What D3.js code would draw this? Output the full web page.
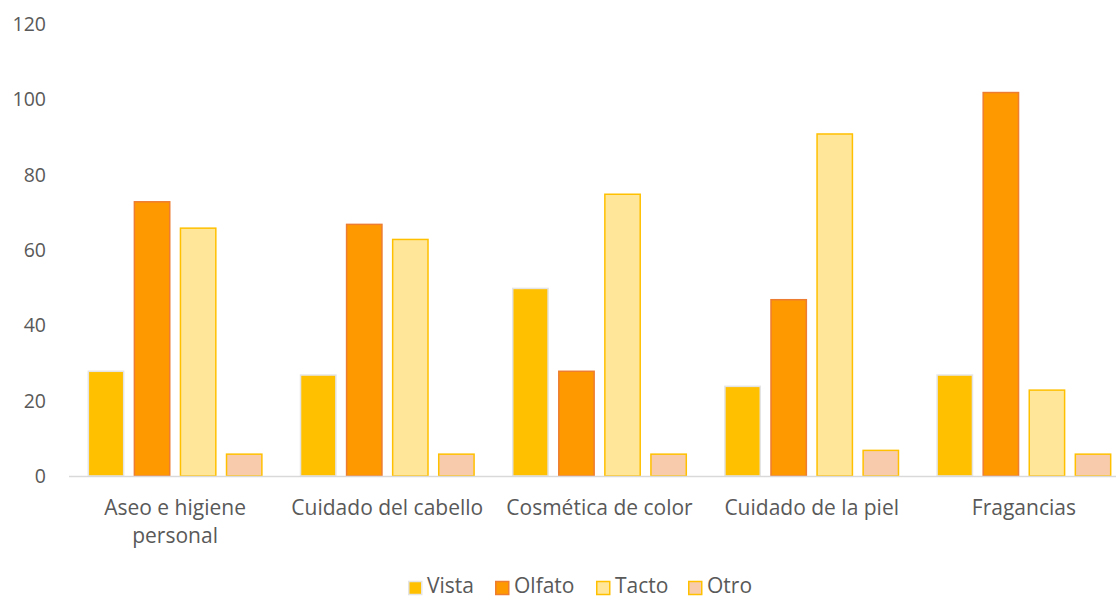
<!DOCTYPE html>
<html><head><meta charset="utf-8">
<script src="https://d3js.org/d3.v7.min.js"></script>
<style>body{margin:0;background:#fff}svg{display:block}text{font-family:"Open Sans",Lato,sans-serif;fill:#595959}</style>
</head><body>
<svg id="c" width="1116" height="598"></svg>
<script>
const categories = ["Aseo e higiene personal","Cuidado del cabello","Cosmética de color","Cuidado de la piel","Fragancias"];
const categoryLines = [["Aseo e higiene","personal"],["Cuidado del cabello"],["Cosmética de color"],["Cuidado de la piel"],["Fragancias"]];
const seriesNames = ["Vista","Olfato","Tacto","Otro"];
const vista = [28,27,50,24,27];
const olfato = [73,67,28,47,102];
const tacto = [66,63,75,91,23];
const otro = [6,6,6,7,6];
const yTicks = [0,20,40,60,80,100,120];
const seriesValues = [vista, olfato, tacto, otro];
const fills = ["#FFC000","#FF9900","#FFE699","#F8CBAD"];
const strokes = ["#E4E4E4","#ED7D31","#FFC000","#FFC000"];

const svg = d3.select("#c");
const x0 = d3.scaleBand().domain(categories).range([69,1130]).paddingInner(0.175).paddingOuter(0.0875);
const x1 = d3.scaleBand().domain(seriesNames).range([0,x0.bandwidth()]).paddingInner(0.2);
const y = d3.scaleLinear().domain([0,120]).range([476,24]);

// y labels
svg.append("g").selectAll("text").data(yTicks).join("text")
  .attr("x",46).attr("y",d=>y(d)+7).attr("text-anchor","end")
  .style("font-size","19.5px").text(d=>d);

// bars
categories.forEach((c,ci)=>{
  const g = svg.append("g").attr("transform",`translate(${x0(c)},0)`);
  seriesNames.forEach((s,si)=>{
    const v = seriesValues[si][ci];
    g.append("rect").attr("x",x1(s)+0.75).attr("width",x1.bandwidth()-1.5)
      .attr("y",y(v)+0.75).attr("height",y(0)-y(v)-0.75)
      .attr("fill",fills[si]).attr("stroke",strokes[si]).attr("stroke-width",1.5);
  });
});

// x axis line
svg.append("line").attr("x1",69).attr("x2",1130).attr("y1",476.5).attr("y2",476.5)
  .attr("stroke","#D9D9D9").attr("stroke-width",1.5);

// category labels
categories.forEach((c,ci)=>{
  const cx = x0(c)+x0.bandwidth()/2;
  const t = svg.append("text").attr("x",cx).attr("y",515).attr("text-anchor","middle").style("font-size","21px");
  categoryLines[ci].forEach((l,li)=>{
    t.append("tspan").attr("x",cx).attr("dy",li?28:0).text(l);
  });
});

// legend
const legX = [408,495,596,688];
const lg = svg.append("g");
seriesNames.forEach((s,i)=>{
  lg.append("rect").attr("x",legX[i]+0.75).attr("y",581.5).attr("width",13).attr("height",13)
    .attr("fill",fills[i]).attr("stroke",strokes[i]).attr("stroke-width",1.5);
  lg.append("text").attr("x",legX[i]+19).attr("y",593).style("font-size","21px").text(s);
});
</script>
</body></html>
